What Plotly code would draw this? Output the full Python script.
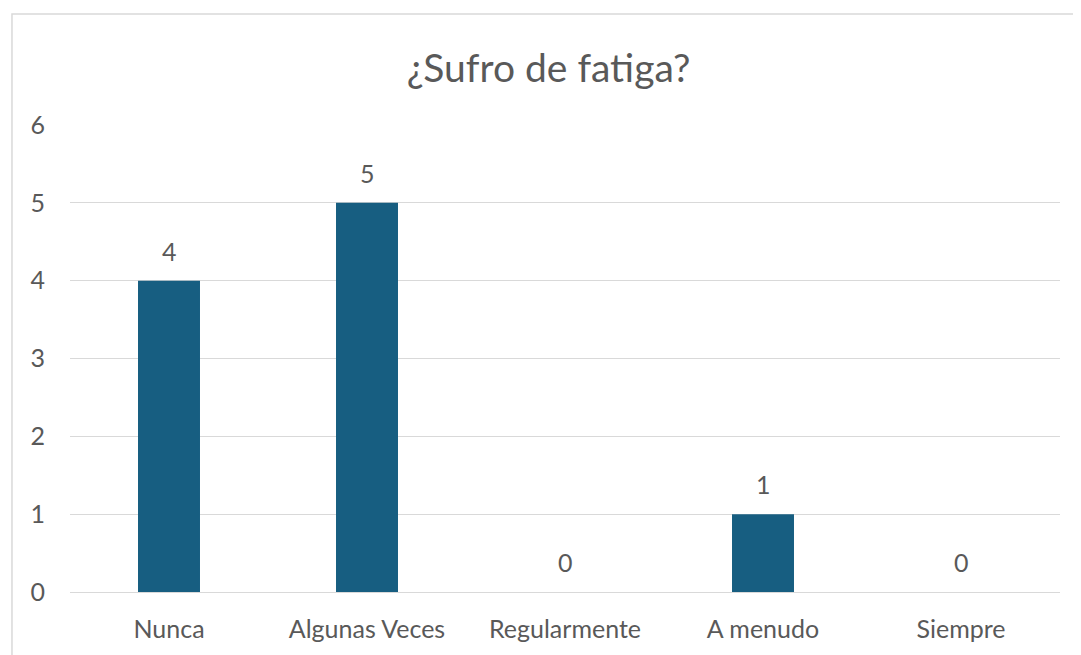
import plotly.graph_objects as go

# datos de la encuesta
categorias = ['Nunca', 'Algunas Veces', 'Regularmente', 'A menudo', 'Siempre']
respuestas = [4, 5, 0, 1, 0]
titulo = '¿Sufro de fatiga?'

gris = '#595959'
fuente = 'Lato'

fig = go.Figure()
fig.add_trace(go.Bar(
    x=categorias, y=respuestas,
    marker=dict(color='#175E81', line=dict(width=0)),
    hoverinfo='x+y',
))

# etiquetas de datos encima de cada barra
for c, v in zip(categorias, respuestas):
    fig.add_annotation(x=c, y=v, text=str(v), showarrow=False,
                       yshift=30, font=dict(size=25, color=gris, family=fuente))

# borde del area del grafico
fig.add_shape(type='rect', xref='paper', yref='paper',
              x0=-0.0586, x1=1.05, y0=-0.2, y1=1.2377,
              line=dict(color='#D9D9D9', width=1.5), layer='below')

# la pagina deja 8px de margen, por eso todo va 8px antes
fig.update_layout(
    width=1081, height=655,
    margin=dict(l=62, r=29, t=117, b=71),
    paper_bgcolor='white', plot_bgcolor='white',
    title=dict(text=titulo, x=0.5, xanchor='center', y=1 - 60 / 655, yanchor='middle',
               font=dict(size=39, color=gris, family=fuente)),
    font=dict(family=fuente, color=gris, size=25),
    bargap=0.687,
    showlegend=False,
)
fig.update_yaxes(range=[0, 6], dtick=1, showgrid=True, gridcolor='#D9D9D9', gridwidth=1,
                 zeroline=False, showline=False, ticks='', ticklabelstandoff=24,
                 tickfont=dict(size=25, color=gris))
fig.update_xaxes(showgrid=False, showline=True, linecolor='#D9D9D9', linewidth=1,
                 ticks='', ticklabelstandoff=15, tickfont=dict(size=25, color=gris))

fig.write_html('out.html')
